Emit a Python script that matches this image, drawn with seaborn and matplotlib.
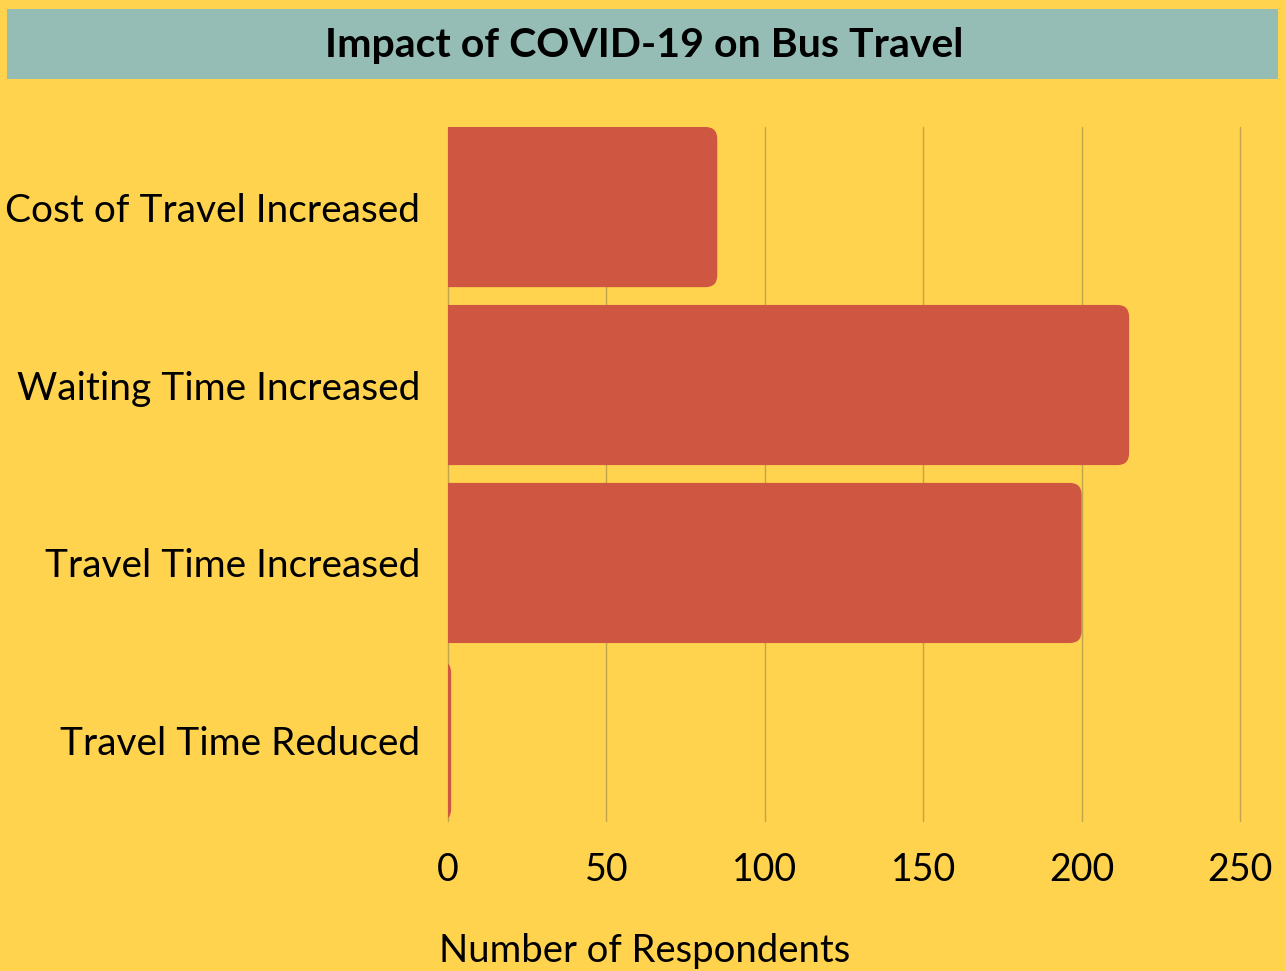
import matplotlib
matplotlib.use("Agg")
import matplotlib.pyplot as plt
from matplotlib.patches import FancyBboxPatch, Rectangle
import seaborn as sns

# data
categories = ["Cost of Travel Increased", "Waiting Time Increased",
              "Travel Time Increased", "Travel Time Reduced"]
respondents = [85, 215, 200, 1]
x_ticks = [0, 50, 100, 150, 200, 250]

BG    = "#FFD34D"
BANNER = "#95BDB5"
BAR   = "#CF5641"
GRID  = "#C2A44A"

sns.set_theme(style="whitegrid")
plt.rcParams["font.family"] = ["Lato", "DejaVu Sans"]

fig = plt.figure(figsize=(12.85, 9.71), dpi=100, facecolor=BG)
ax = fig.add_axes([448 / 1285, 1 - 821 / 971, (1240 - 448) / 1285, (821 - 127) / 971])
ax.set_facecolor(BG)

sns.barplot(x=respondents, y=categories, orient="h", color=BAR,
            width=0.9, saturation=1, ax=ax)

ax.set_xlim(0, 250)
ax.set_ylim(3.45, -0.45)

# swap the square bars for ones with rounded right corners
px_x = (1240 - 448) / 250          # pixels per x unit
px_y = (821 - 127) / 3.9           # pixels per y unit
r = 12 / px_x
for p in list(ax.patches):
    x0, y0, w, h = p.get_x(), p.get_y(), p.get_width(), p.get_height()
    p.remove()
    ax.add_patch(FancyBboxPatch((x0 - 2 * r, y0), w + 2 * r, h,
                                boxstyle=f"round,pad=0,rounding_size={r}",
                                mutation_aspect=px_x / px_y,
                                fc=BAR, ec="none", zorder=2))

ax.set_xticks(x_ticks)
ax.grid(axis="x", color=GRID, linewidth=1)
ax.grid(axis="y", visible=False)
for gl in ax.get_xgridlines():
    gl.set_clip_on(False)
ax.set_axisbelow(True)
for s in ax.spines.values():
    s.set_visible(False)
ax.tick_params(axis="x", length=0, pad=22, labelsize=27, colors="black")
ax.tick_params(axis="y", length=0, pad=20, labelsize=28, colors="black")
ax.set_xlabel("")
ax.set_ylabel("")

# title banner
fig.patches.append(Rectangle((7 / 1285, 1 - 79 / 971), 1271 / 1285, 70 / 971,
                             transform=fig.transFigure, fc=BANNER, ec="none", zorder=0))
fig.text(0.5012, 1 - 45 / 971, "Impact of COVID-19 on Bus Travel",
         ha="center", va="center", fontsize=29.5, fontweight="bold", color="black")

fig.text(0.502, 1 - 951 / 971, "Number of Respondents",
         ha="center", va="center", fontsize=27.5, color="black")

fig.savefig("out.png", dpi=100, facecolor=BG)
